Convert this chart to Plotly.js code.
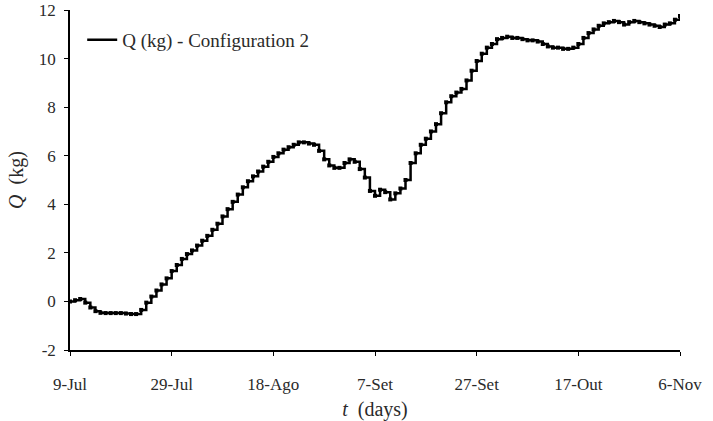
<!DOCTYPE html>
<html>
<head>
<meta charset="utf-8">
<script src="https://cdn.plot.ly/plotly-3.0.1.min.js"></script>
<style>
  html, body { margin: 0; padding: 0; background: #fff; }
  #chart { width: 713px; height: 421px; }
</style>
</head>
<body>
<div id="chart"></div>
<script>
// Days elapsed since 9 July
const days = [];
for (let d = 0; d <= 120; d++) days.push(d);

// Accumulated mass Q (kg), one reading per day
const qKg = [
  0.00, 0.05, 0.10, -0.05, -0.25, -0.40, -0.47, -0.48, -0.48, -0.48,
  -0.48, -0.50, -0.52, -0.52, -0.35, -0.05, 0.20, 0.45, 0.70, 0.95,
  1.25, 1.50, 1.75, 1.95, 2.10, 2.30, 2.50, 2.70, 2.95, 3.20,
  3.50, 3.80, 4.10, 4.40, 4.70, 4.95, 5.15, 5.35, 5.55, 5.75,
  5.95, 6.10, 6.25, 6.35, 6.45, 6.55, 6.55, 6.50, 6.45, 6.20,
  5.85, 5.60, 5.50, 5.50, 5.70, 5.85, 5.75, 5.45, 5.10, 4.55,
  4.35, 4.60, 4.50, 4.20, 4.45, 4.65, 5.00, 5.70, 6.10, 6.45,
  6.70, 7.00, 7.30, 7.75, 8.20, 8.45, 8.60, 8.75, 9.10, 9.50,
  9.90, 10.20, 10.45, 10.60, 10.80, 10.85, 10.90, 10.85, 10.85, 10.80,
  10.75, 10.75, 10.70, 10.60, 10.50, 10.45, 10.45, 10.40, 10.40, 10.45,
  10.60, 10.85, 11.05, 11.20, 11.35, 11.45, 11.50, 11.55, 11.50, 11.40,
  11.50, 11.55, 11.50, 11.45, 11.40, 11.35, 11.30, 11.40, 11.45, 11.60,
  11.75
];

// Date tick labels every 20 days
const tickDays = [0, 20, 40, 60, 80, 100, 120];
const tickLabels = ['9-Jul', '29-Jul', '18-Ago', '7-Set', '27-Set', '17-Out', '6-Nov'];
const yTicks = [-2, 0, 2, 4, 6, 8, 10, 12];
const yTickLabels = ['-2', '0', '2', '4', '6', '8', '10', '12'];

const serif = 'Liberation Serif';
const ink = '#2a2a2a';

const traces = [
  {
    x: days, y: qKg,
    type: 'scatter', mode: 'lines+markers',
    line: { color: '#000', width: 2.5, shape: 'hv' },
    marker: { symbol: 'square', size: 4, color: '#000' },
    showlegend: false, hoverinfo: 'skip'
  },
  {
    // legend entry (line only)
    x: [null], y: [null],
    type: 'scatter', mode: 'lines',
    name: 'Q (kg) - Configuration 2',
    line: { color: '#000', width: 2.5 }
  }
];

const layout = {
  width: 713, height: 421,
  margin: { l: 70, r: 33, t: 10, b: 71 },
  paper_bgcolor: '#fff', plot_bgcolor: '#fff',
  font: { family: serif, size: 16, color: ink },
  showlegend: true,
  legend: {
    x: 0.02, y: 0.968, xanchor: 'left', yanchor: 'top',
    bgcolor: 'rgba(0,0,0,0)', borderwidth: 0,
    font: { family: serif, size: 19, color: ink },
    itemwidth: 30
  },
  xaxis: {
    range: [0, 120], tickmode: 'array', tickvals: tickDays, ticktext: tickLabels,
    showgrid: false, zeroline: false,
    showline: true, linecolor: '#000', linewidth: 1.5,
    ticks: 'outside', ticklen: 4, tickcolor: '#000', tickwidth: 1,
    ticklabelstandoff: 14,
    tickfont: { family: serif, size: 17, color: ink },
    title: { text: '<i>t</i>  (days)', font: { family: serif, size: 20, color: ink }, standoff: 18 }
  },
  yaxis: {
    range: [-2, 12], tickmode: 'array', tickvals: yTicks, ticktext: yTickLabels,
    showgrid: false, zeroline: false,
    showline: true, linecolor: '#000', linewidth: 1.5,
    ticks: 'outside', ticklen: 4, tickcolor: '#000', tickwidth: 1,
    ticklabelstandoff: 5,
    tickfont: { family: serif, size: 17, color: ink },
    title: { text: '<i>Q</i>  (kg)', font: { family: serif, size: 20, color: ink }, standoff: 10 }
  },
  // inner halves of the crossing tick marks
  xaxis2: {
    overlaying: 'x', anchor: 'y', side: 'bottom', range: [0, 120],
    tickmode: 'array', tickvals: tickDays, showticklabels: false,
    ticks: 'inside', ticklen: 4, tickcolor: '#000', tickwidth: 1,
    showgrid: false, zeroline: false, showline: false
  },
  yaxis2: {
    overlaying: 'y', anchor: 'x', side: 'left', range: [-2, 12],
    tickmode: 'array', tickvals: yTicks, showticklabels: false,
    ticks: 'inside', ticklen: 4, tickcolor: '#000', tickwidth: 1,
    showgrid: false, zeroline: false, showline: false
  },
  // frame: grey top edge, black right edge
  xaxis3: {
    overlaying: 'x', anchor: 'y', side: 'top', range: [0, 120],
    showticklabels: false, ticks: '', showgrid: false, zeroline: false,
    showline: true, linecolor: '#777', linewidth: 1.5
  },
  yaxis3: {
    overlaying: 'y', anchor: 'x', side: 'right', range: [-2, 12],
    showticklabels: false, ticks: '', showgrid: false, zeroline: false,
    showline: true, linecolor: '#000', linewidth: 1
  }
};

Plotly.newPlot('chart', traces, layout, { displayModeBar: false });
</script>
</body>
</html>
